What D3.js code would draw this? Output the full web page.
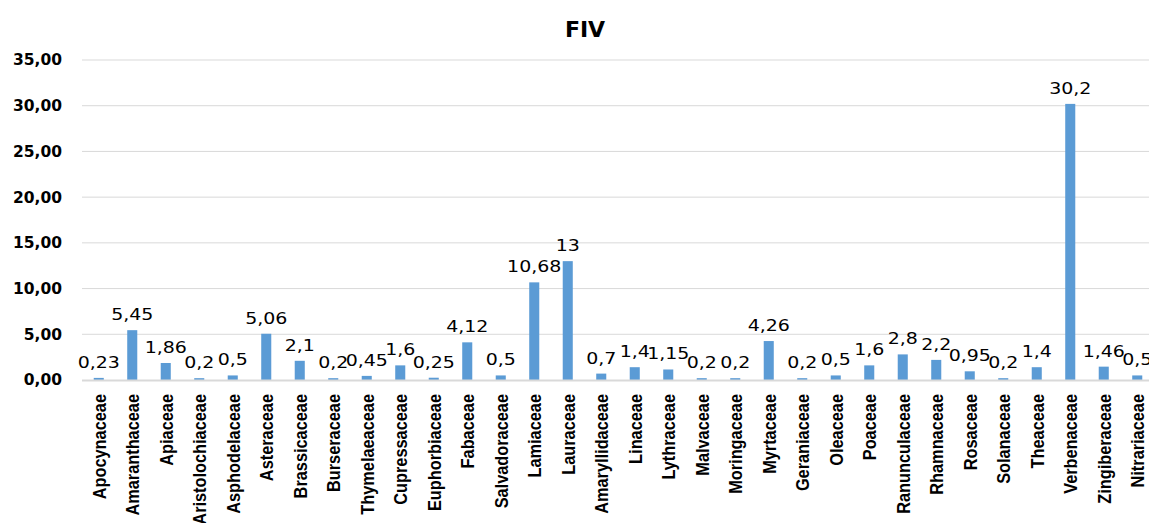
<!DOCTYPE html>
<html><head><meta charset="utf-8">
<script src="https://cdn.jsdelivr.net/npm/d3@7/dist/d3.min.js"></script>
<style>html,body{margin:0;padding:0;background:#fff;overflow:hidden}</style>
</head><body>
<svg id="c" width="1149" height="523"></svg>
<script>
const categories = ["Apocynaceae","Amaranthaceae","Apiaceae","Aristolochiaceae","Asphodelaceae","Asteraceae","Brassicaceae","Burseraceae","Thymelaeaceae","Cupressaceae","Euphorbiaceae","Fabaceae","Salvadoraceae","Lamiaceae","Lauraceae","Amaryllidaceae","Linaceae","Lythraceae","Malvaceae","Moringaceae","Myrtaceae","Geraniaceae","Oleaceae","Poaceae","Ranunculaceae","Rhamnaceae","Rosaceae","Solanaceae","Theaceae","Verbenaceae","Zingiberaceae","Nitrariaceae"];
const values = [0.23,5.45,1.86,0.2,0.5,5.06,2.1,0.2,0.45,1.6,0.25,4.12,0.5,10.68,13,0.7,1.4,1.15,0.2,0.2,4.26,0.2,0.5,1.6,2.8,2.2,0.95,0.2,1.4,30.2,1.46,0.5];
const yTicks = [0,5,10,15,20,25,30,35];
const title = "FIV";

const svg = d3.select("#c");
const W = 1149, H = 523;
const x = d3.scaleBand().domain(categories).range([82, 1154]).paddingInner(0.7).paddingOuter(0.35);
const y = d3.scaleLinear().domain([0, 35]).range([380, 60]);

// gridlines
svg.append("g").selectAll("line").data(yTicks.filter(d => d > 0)).join("line")
  .attr("x1", 82).attr("x2", W).attr("y1", d => y(d)).attr("y2", d => y(d))
  .attr("stroke", "#d9d9d9").attr("stroke-width", 1);

// y axis labels
const yAxis = d3.axisLeft(y).tickValues(yTicks).tickSize(0).tickPadding(0)
  .tickFormat(d => d3.format(".2f")(d).replace(".", ","));
const ga = svg.append("g").attr("transform", "translate(62,0)").call(yAxis);
ga.select(".domain").remove();
ga.selectAll("text").attr("font-family", "DejaVu Sans").attr("font-weight", "bold")
  .attr("font-size", 15.5).attr("fill", "#000");

// bars
svg.append("g").selectAll("rect").data(values).join("rect")
  .attr("x", (d, i) => x(categories[i])).attr("width", x.bandwidth())
  .attr("y", d => y(d)).attr("height", d => y(0) - y(d))
  .attr("fill", "#5b9bd5");

// baseline
svg.append("line").attr("x1", 82).attr("x2", W).attr("y1", y(0) + 0.5).attr("y2", y(0) + 0.5)
  .attr("stroke", "#d9d9d9").attr("stroke-width", 2);

// data labels
svg.append("g").selectAll("text").data(values).join("text")
  .attr("transform", (d, i) => `translate(${x(categories[i]) + x.bandwidth() / 2},${y(d) - 10}) scale(1.15,1)`)
  .attr("text-anchor", "middle").attr("font-family", "DejaVu Sans").attr("font-size", 16.5)
  .attr("fill", "#000").text(d => String(d).replace(".", ","));

// x axis labels
const xAxis = d3.axisBottom(x).tickSize(0).tickPadding(0);
const gx = svg.append("g").attr("transform", "translate(0,394)").call(xAxis);
gx.attr("font-family", "Liberation Sans").attr("font-size", 19);
gx.select(".domain").remove();
gx.selectAll("text").attr("transform", "rotate(-90) scale(0.86,1)").attr("text-anchor", "end")
  .attr("x", 0).attr("y", 0).attr("dy", "0.36em")
  .style("font-family", "Liberation Sans").style("font-weight", "bold").style("font-size", "19px").attr("fill", "#000");

// title
svg.append("text").attr("x", 585).attr("y", 37).attr("text-anchor", "middle")
  .attr("font-family", "DejaVu Sans").attr("font-weight", "bold").attr("font-size", 22).text(title);
</script>
</body></html>
